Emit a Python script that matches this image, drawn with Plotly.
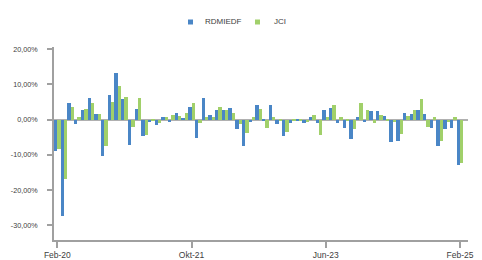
import plotly.graph_objects as go

months = list(range(61))
tick_vals = [0, 20, 40, 60]
tick_text = ["Feb-20", "Okt-21", "Jun-23", "Feb-25"]

rdmiedf = [-8.8, -27.5, 4.8, -1.3, 2.8, 6.2, 1.7, -10.4, 7.1, 13.1,
           5.7, -7.1, 3.1, -4.8, -0.6, -1.6, 0.6, -0.6, 2.0, 0.4,
           3.7, -5.1, 6.2, 1.4, 2.8, 2.8, 3.4, -2.6, -7.4, -0.6,
           4.0, -0.3, 4.0, -1.4, -4.8, -1.1, -0.3, -1.1, 0.6, -1.1,
           2.6, 3.4, -1.1, -2.3, -5.4, 0.6, -0.8, 2.3, 2.3, 0.9,
           -6.5, -6.2, 2.0, 1.7, 2.8, 1.7, -2.3, -7.4, -2.6, -2.3,
           -12.8]
jci = [-8.4, -17.0, 3.7, 0.6, 3.1, 4.8, 1.7, -7.4, 5.1, 9.4,
       6.5, -2.2, 6.2, -4.3, -0.2, -1.1, 0.6, 1.4, 1.1, 2.0,
       4.8, -1.0, 0.6, 0.6, 3.7, 2.6, 2.0, -1.4, -3.7, 0.6,
       3.1, -2.3, 0.6, -0.4, -3.4, -0.2, -0.2, -0.8, 1.4, -4.3,
       0.6, 4.0, 0.6, -0.3, -2.8, 4.8, 2.6, -1.1, 1.4, -0.4,
       -0.8, -4.0, 1.1, 2.6, 5.7, -2.0, 0.6, -6.2, -0.8, 0.6,
       -12.2]

series_names = ["RDMIEDF", "JCI"]
colors = ["#4a86c6", "#a1d06a"]
y_ticks = [20, 10, 0, -10, -20, -30]
y_tick_text = ["20,00%", "10,00%", "0,00%", "-10,00%", "-20,00%", "-30,00%"]

fig = go.Figure()
for name, vals, c in zip(series_names, [rdmiedf, jci], colors):
    fig.add_trace(go.Bar(x=months, y=vals, name=name, marker=dict(color=c, line=dict(width=0)),
                         showlegend=False))

font = "Liberation Sans, Arial, sans-serif"
L, R, T, B = 54, 14, 47, 20
W, H = 482, 260
pw = W - L - R

fig.update_layout(
    width=W, height=H,
    margin=dict(l=L, r=R, t=T, b=B, autoexpand=False),
    paper_bgcolor="white", plot_bgcolor="white",
    barmode="group", bargap=0, bargroupgap=0,
    font=dict(family=font, color="#404040"),
    xaxis=dict(range=[-0.5, 61.2], tickmode="array", tickvals=tick_vals, ticktext=tick_text,
               automargin=False,
               showgrid=False, zeroline=False, showline=True, linecolor="#a0a0a0", linewidth=2,
               ticks="outside", ticklen=6, tickwidth=2, tickcolor="#a0a0a0",
               tickfont=dict(size=8.5, color="#404040", family=font)),
    yaxis=dict(range=[-34.2, 20.6], tickmode="array", tickvals=y_ticks, ticktext=y_tick_text,
               automargin=False,
               showgrid=False, zeroline=True, zerolinecolor="#b0b0b0", zerolinewidth=2,
               showline=True, linecolor="#a0a0a0", linewidth=2,
               ticks="outside", ticklen=5, tickwidth=2, tickcolor="#a0a0a0",
               ticklabelstandoff=8,
               tickfont=dict(size=7.2, color="#404040", family=font)),
)

# legend built from shapes + text
def px2paper(px):
    return (px - L) / pw

ph = H - T - B
legend_items = [(188, 203, series_names[0], colors[0]), (255, 272, series_names[1], colors[1])]
for sq_x, tx, name, c in legend_items:
    fig.add_shape(type="rect", xref="paper", yref="paper",
                  x0=px2paper(sq_x), x1=px2paper(sq_x + 5),
                  y0=1 + (T - 24.5) / ph, y1=1 + (T - 19.5) / ph,
                  fillcolor=c, line=dict(width=0))
    fig.add_annotation(x=px2paper(tx), y=1 + (T - 22) / ph, xref="paper", yref="paper",
                       text=name, showarrow=False, xanchor="left", yanchor="middle",
                       font=dict(size=8, color="#404040", family=font))

fig.write_html("out.html", config={"displayModeBar": False},
               post_script="document.body.style.margin='0';")
